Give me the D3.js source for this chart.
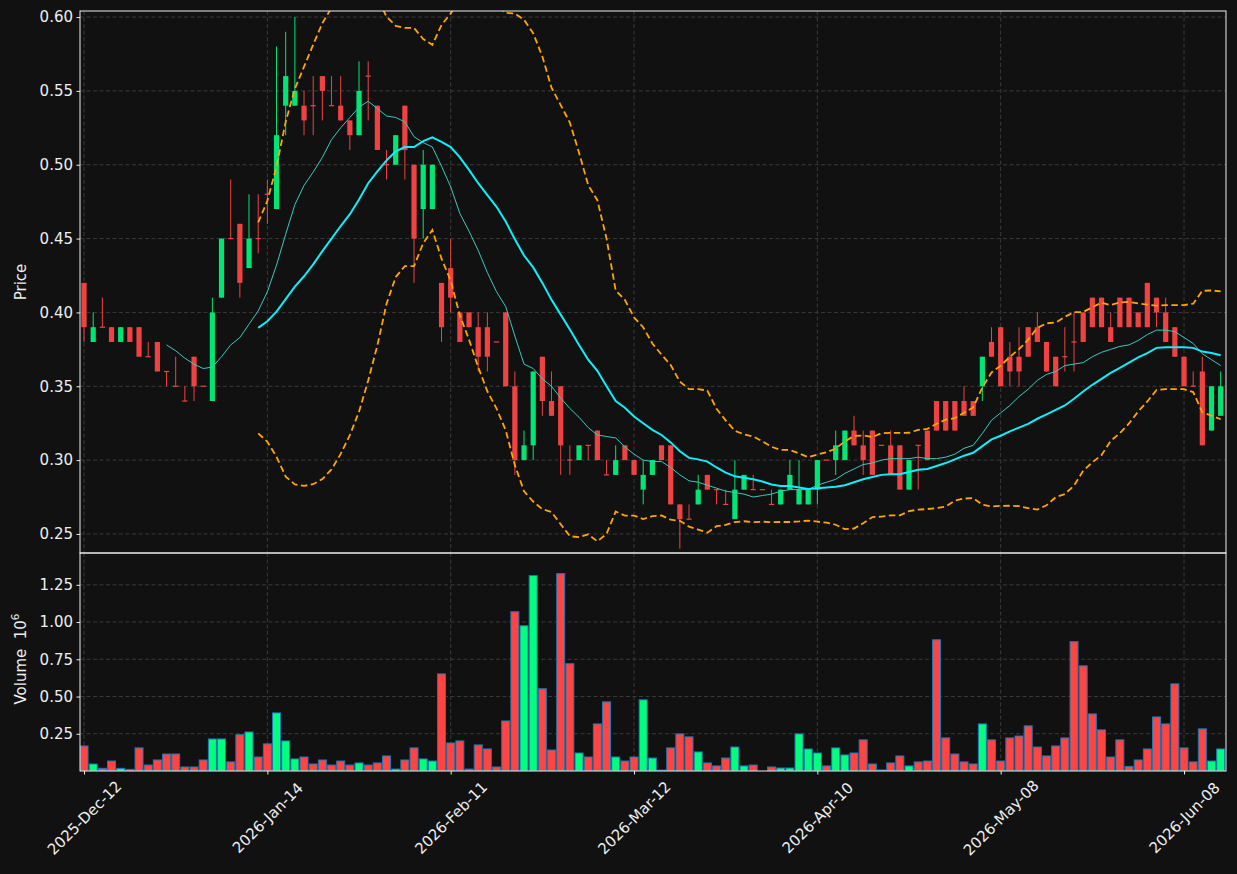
<!DOCTYPE html>
<html>
<head>
<meta charset="utf-8">
<script src="https://cdn.jsdelivr.net/npm/d3@7"></script>
<style>
  body { margin: 0; background: #111111; }
  text { font-family: "DejaVu Sans", sans-serif; }
</style>
</head>
<body>
<div id="graph"></div>
<script>
// daily candles, price in $, volume in millions
let opens  = [0.42,0.38,0.39,0.39,0.38,0.39,0.39,0.37,0.38,0.36,0.35,0.34,0.37,0.35,0.34,0.41,0.45,0.46,0.43,0.45,
              0.48,0.47,0.54,0.54,0.54,0.54,0.56,0.54,0.54,0.53,0.52,0.56,0.54,0.50,0.50,0.54,0.50,0.47,0.47,0.42,
              0.43,0.40,0.40,0.39,0.39,0.38,0.40,0.35,0.30,0.31,0.37,0.34,0.35,0.30,0.30,0.31,0.32,0.29,0.29,0.31,
              0.30,0.28,0.29,0.31,0.31,0.27,0.26,0.27,0.29,0.28,0.27,0.26,0.28,0.28,0.28,0.27,0.27,0.28,0.27,0.27,
              0.28,0.30,0.30,0.30,0.32,0.31,0.32,0.31,0.31,0.31,0.28,0.31,0.32,0.34,0.34,0.34,0.34,0.34,0.35,0.38,
              0.39,0.37,0.37,0.39,0.39,0.38,0.37,0.37,0.38,0.40,0.41,0.41,0.39,0.41,0.41,0.40,0.42,0.41,0.40,0.39,
              0.37,0.35,0.36,0.32,0.33];
let highs  = [0.42,0.40,0.41,0.39,0.39,0.39,0.39,0.38,0.38,0.36,0.37,0.35,0.37,0.35,0.41,0.45,0.49,0.46,0.48,0.48,
              0.49,0.58,0.59,0.60,0.55,0.56,0.56,0.56,0.56,0.53,0.57,0.57,0.54,0.51,0.52,0.54,0.50,0.51,0.50,0.42,
              0.45,0.40,0.40,0.40,0.40,0.38,0.40,0.36,0.32,0.36,0.37,0.36,0.35,0.31,0.31,0.31,0.32,0.30,0.31,0.31,
              0.30,0.30,0.30,0.31,0.31,0.27,0.27,0.29,0.29,0.28,0.28,0.30,0.29,0.29,0.28,0.28,0.28,0.30,0.30,0.28,
              0.30,0.30,0.32,0.32,0.33,0.32,0.32,0.31,0.32,0.31,0.30,0.31,0.32,0.34,0.34,0.34,0.35,0.34,0.37,0.39,
              0.39,0.38,0.39,0.39,0.40,0.38,0.37,0.39,0.40,0.40,0.41,0.41,0.40,0.41,0.41,0.40,0.42,0.41,0.41,0.39,
              0.37,0.36,0.37,0.35,0.36];
let lows   = [0.38,0.38,0.39,0.38,0.38,0.38,0.37,0.37,0.36,0.35,0.35,0.34,0.34,0.35,0.34,0.41,0.45,0.41,0.43,0.44,
              0.46,0.47,0.52,0.54,0.52,0.52,0.53,0.54,0.53,0.51,0.52,0.53,0.51,0.49,0.50,0.49,0.42,0.45,0.47,0.38,
              0.40,0.38,0.39,0.36,0.36,0.38,0.35,0.29,0.30,0.30,0.33,0.33,0.29,0.29,0.30,0.30,0.30,0.29,0.29,0.30,
              0.29,0.27,0.29,0.30,0.27,0.24,0.26,0.27,0.28,0.27,0.27,0.26,0.28,0.28,0.28,0.27,0.27,0.28,0.27,0.27,
              0.27,0.30,0.29,0.30,0.31,0.29,0.29,0.31,0.29,0.28,0.28,0.28,0.30,0.32,0.32,0.32,0.33,0.33,0.34,0.37,
              0.35,0.35,0.35,0.37,0.38,0.36,0.35,0.36,0.36,0.38,0.39,0.39,0.38,0.39,0.39,0.39,0.39,0.39,0.38,0.37,
              0.35,0.35,0.31,0.32,0.33];
let closes = [0.39,0.39,0.39,0.38,0.39,0.38,0.37,0.37,0.36,0.36,0.35,0.34,0.35,0.35,0.40,0.45,0.45,0.42,0.45,0.45,
              0.48,0.52,0.56,0.55,0.53,0.54,0.55,0.54,0.53,0.52,0.55,0.56,0.51,0.50,0.52,0.51,0.45,0.50,0.50,0.39,
              0.41,0.38,0.39,0.37,0.37,0.38,0.35,0.30,0.31,0.36,0.34,0.33,0.31,0.30,0.31,0.31,0.30,0.29,0.30,0.30,
              0.29,0.29,0.30,0.30,0.27,0.26,0.26,0.28,0.28,0.28,0.27,0.28,0.29,0.28,0.28,0.27,0.28,0.29,0.28,0.28,
              0.30,0.30,0.31,0.32,0.31,0.30,0.29,0.31,0.29,0.28,0.30,0.31,0.30,0.32,0.32,0.32,0.33,0.33,0.37,0.37,
              0.35,0.36,0.36,0.37,0.38,0.36,0.35,0.37,0.38,0.38,0.39,0.39,0.38,0.39,0.39,0.39,0.39,0.40,0.38,0.37,
              0.35,0.35,0.31,0.35,0.35];
let volumes = [0.168,0.047,0.018,0.067,0.018,0.011,0.155,0.040,0.074,0.114,0.114,0.027,0.027,0.074,0.215,0.215,0.061,0.244,0.262,0.094,
               0.182,0.390,0.202,0.081,0.094,0.047,0.074,0.040,0.067,0.040,0.054,0.040,0.054,0.101,0.013,0.074,0.155,0.081,0.067,0.652,
               0.188,0.202,0.013,0.175,0.148,0.027,0.336,1.069,0.975,1.312,0.552,0.141,1.325,0.720,0.121,0.094,0.316,0.464,0.094,0.067,
               0.094,0.478,0.087,0.006,0.155,0.249,0.229,0.128,0.054,0.034,0.087,0.161,0.034,0.040,0.000,0.027,0.020,0.020,0.249,0.148,
               0.121,0.034,0.155,0.108,0.121,0.209,0.047,0.007,0.054,0.101,0.034,0.061,0.067,0.881,0.222,0.114,0.061,0.047,0.316,0.209,
               0.067,0.222,0.235,0.303,0.161,0.101,0.168,0.222,0.868,0.706,0.383,0.276,0.094,0.209,0.031,0.074,0.148,0.363,0.316,0.585,
               0.155,0.061,0.283,0.067,0.148];

let tickIdx = [0, 20, 40, 60, 80, 100, 120];
let tickLabels = ["2025-Dec-12", "2026-Jan-14", "2026-Feb-11", "2026-Mar-12", "2026-Apr-10", "2026-May-08", "2026-Jun-08"];
let priceTicks = [0.25, 0.30, 0.35, 0.40, 0.45, 0.50, 0.55, 0.60];
let volTicks = [0.25, 0.50, 0.75, 1.00, 1.25];

let data = closes.map(function (c, i) {
  return { i: i, o: opens[i], h: highs[i], l: lows[i], c: c, v: volumes[i] };
});

// rolling mean / std of closes (mav 10, mav 20, bands 20 +- 2 std)
function rolling(n) {
  let out = [];
  for (let i = n - 1; i < closes.length; i++) {
    let win = closes.slice(i - n + 1, i + 1);
    let m = d3.mean(win);
    let sd = Math.sqrt(d3.mean(win, function (v) { return (v - m) * (v - m); }));
    out.push({ i: i, m: m, up: m + 2 * sd, lo: m - 2 * sd });
  }
  return out;
}
let ma10 = rolling(10);
let ma20 = rolling(20);

let W = 1237, H = 874;
let left = 80, right = 1226, pTop = 11, pBot = 553, vBot = 771;
let fs = "15px";

let svg = d3.select("#graph").append("svg")
  .attr("width", W)
  .attr("height", H)
  .style("display", "block");

svg.append("rect").attr("width", W).attr("height", H).attr("fill", "#111111");

let xScale = d3.scaleLinear().domain([-0.44, 124.58]).range([left, right]);
let yScale = d3.scaleLinear().domain([0.2371, 0.6041]).range([pBot, pTop]);
let vScale = d3.scaleLinear().domain([0, 1.4635]).range([vBot, pBot]);

let defs = svg.append("defs");
defs.append("clipPath").attr("id", "clipP")
  .append("rect").attr("x", left).attr("y", pTop).attr("width", right - left).attr("height", pBot - pTop);
defs.append("clipPath").attr("id", "clipV")
  .append("rect").attr("x", left).attr("y", pBot).attr("width", right - left).attr("height", vBot - pBot);

let gridColor = "#3a3a3a";
let fg = "#eeeeee";

// grids
function grid(yS, ticks, y0, y1) {
  let g = svg.append("g");
  g.selectAll(".hg").data(ticks).enter().append("line")
    .attr("x1", left).attr("x2", right)
    .attr("y1", function (d) { return yS(d); })
    .attr("y2", function (d) { return yS(d); })
    .attr("stroke", gridColor).attr("stroke-dasharray", "4,2.5");
  g.selectAll(".vg").data(tickIdx).enter().append("line")
    .attr("x1", function (d) { return xScale(d); })
    .attr("x2", function (d) { return xScale(d); })
    .attr("y1", y0).attr("y2", y1)
    .attr("stroke", gridColor).attr("stroke-dasharray", "4,2.5");
}
grid(yScale, priceTicks, pTop, pBot);
grid(vScale, volTicks, pBot, vBot);

let upC = "#00e676", dnC = "#ef4343";
function isUp(d) { return d.c > d.o; }

// candles
let cg = svg.append("g").attr("clip-path", "url(#clipP)");
cg.selectAll(".wick").data(data).enter().append("line")
  .attr("x1", function (d) { return xScale(d.i); })
  .attr("x2", function (d) { return xScale(d.i); })
  .attr("y1", function (d) { return yScale(d.h); })
  .attr("y2", function (d) { return yScale(d.l); })
  .attr("stroke", function (d) { return isUp(d) ? upC : dnC; })
  .attr("stroke-width", 1);
cg.selectAll(".body").data(data).enter().append("rect")
  .attr("x", function (d) { return xScale(d.i) - 2.6; })
  .attr("width", 5.2)
  .attr("y", function (d) { return yScale(Math.max(d.o, d.c)) - (d.o === d.c ? 0.6 : 0); })
  .attr("height", function (d) { return Math.max(1.2, Math.abs(yScale(d.o) - yScale(d.c))); })
  .attr("fill", function (d) { return isUp(d) ? upC : dnC; });

// moving averages and bands
let lg = svg.append("g").attr("clip-path", "url(#clipP)");
function path(arr, key) {
  return d3.line()
    .x(function (d) { return xScale(d.i); })
    .y(function (d) { return yScale(d[key]); })(arr);
}
lg.append("path").attr("d", path(ma10, "m")).attr("fill", "none")
  .attr("stroke", "#3cc8c0").attr("stroke-width", 1);
lg.append("path").attr("d", path(ma20, "m")).attr("fill", "none")
  .attr("stroke", "#10eefa").attr("stroke-width", 2);
lg.append("path").attr("d", path(ma20, "up")).attr("fill", "none")
  .attr("stroke", "#ffa500").attr("stroke-width", 1.8).attr("stroke-dasharray", "6.5,3.5");
lg.append("path").attr("d", path(ma20, "lo")).attr("fill", "none")
  .attr("stroke", "#ffa500").attr("stroke-width", 1.8).attr("stroke-dasharray", "6.5,3.5");

// volume
let vg = svg.append("g").attr("clip-path", "url(#clipV)");
vg.selectAll(".vol").data(data).enter().append("rect")
  .attr("x", function (d) { return xScale(d.i) - 4; })
  .attr("width", 8)
  .attr("y", function (d) { return vScale(d.v); })
  .attr("height", function (d) { return vBot - vScale(d.v); })
  .attr("fill", function (d) { return isUp(d) ? "#00ff7f" : "#ff4444"; })
  .attr("stroke", "#1f77b4")
  .attr("stroke-width", 1);

// axes
function styleAxis(g) {
  g.select(".domain").remove();
  g.selectAll("line").attr("stroke", fg);
  g.selectAll("text").attr("fill", fg).style("font-size", fs)
    .style("font-family", "DejaVu Sans, sans-serif");
}
svg.append("g").attr("transform", "translate(" + left + ",0)")
  .call(d3.axisLeft(yScale).tickValues(priceTicks).tickFormat(d3.format(".2f")).tickSize(3.5).tickPadding(3.5))
  .call(styleAxis);
svg.append("g").attr("transform", "translate(" + left + ",0)")
  .call(d3.axisLeft(vScale).tickValues(volTicks).tickFormat(d3.format(".2f")).tickSize(3.5).tickPadding(3.5))
  .call(styleAxis);
let xa = svg.append("g").attr("transform", "translate(0," + vBot + ")")
  .call(d3.axisBottom(xScale).tickValues(tickIdx).tickFormat(function (d, k) { return tickLabels[k]; }).tickSize(3.5))
  .call(styleAxis);
xa.selectAll("text")
  .attr("text-anchor", "middle")
  .attr("dy", null)
  .attr("y", null)
  .attr("dominant-baseline", "central")
  .attr("transform", "translate(0,47) rotate(-45)");

// frames
[[pTop, pBot], [pBot, vBot]].forEach(function (p) {
  svg.append("rect")
    .attr("x", left).attr("y", p[0])
    .attr("width", right - left).attr("height", p[1] - p[0])
    .attr("fill", "none").attr("stroke", fg).attr("stroke-width", 1);
});

// axis titles
svg.append("text")
  .attr("transform", "translate(26," + ((pTop + pBot) / 2) + ") rotate(-90)")
  .attr("text-anchor", "middle")
  .attr("fill", fg).style("font-size", fs)
  .text("Price");
let vt = svg.append("text")
  .attr("transform", "translate(26," + ((pBot + vBot) / 2 - 3) + ") rotate(-90)")
  .attr("text-anchor", "middle")
  .style("white-space", "pre")
  .attr("fill", fg).style("font-size", fs);
vt.append("tspan").text("Volume  10");
vt.append("tspan").attr("dy", -7).style("font-size", "10.5px").text("6");
</script>
</body>
</html>
